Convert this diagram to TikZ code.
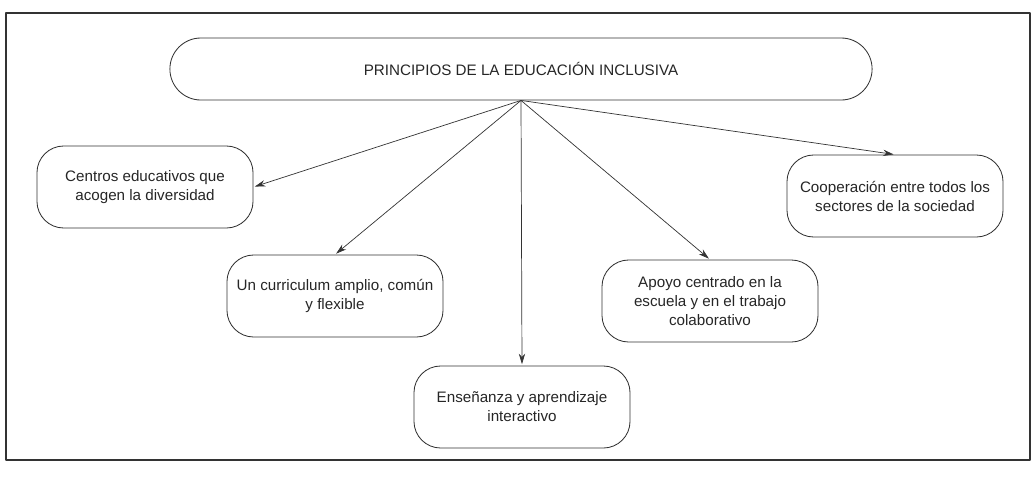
\documentclass[tikz,border=0pt]{standalone}
\usepackage{fontspec}
\setmainfont{Liberation Sans}
\usetikzlibrary{arrows.meta}
\begin{document}
\begin{tikzpicture}[x=0.025cm, y=-0.025cm, line join=round, line cap=round, >={Stealth[length=7.5pt,width=4.5pt]},
		font=\fontsize{10.8}{13.5}\selectfont,
		principio/.style={draw=black!80, line width=0.6pt, rounded corners=19pt, align=center, text=black!85, minimum width=5.4cm, minimum height=2.05cm, inner sep=2pt},
		titulo/.style={draw=black!80, line width=0.6pt, rounded corners=22pt, text=black!85, minimum width=17.55cm, minimum height=1.55cm},
		flecha/.style={->, draw=black!80, line width=0.5pt, shorten >=1pt}]
				\useasboundingbox (0,0) rectangle (1033,476);
				\draw[black!80, line width=0.8pt] (6,13) rectangle (1030,460);
				\node[titulo] (raiz) at (521,69) {PRINCIPIOS DE LA EDUCACIÓN INCLUSIVA};
				\node[principio] (centros) at (145,187) {Centros educativos que\\acogen la diversidad};
				\node[principio] (curriculum) at (335,296) {Un curriculum amplio, común\\y flexible};
				\node[principio] (ensenanza) at (522,407) {Enseñanza y aprendizaje\\interactivo};
				\node[principio] (apoyo) at (710,301) {Apoyo centrado en la\\escuela y en el trabajo\\colaborativo};
				\node[principio] (cooperacion) at (895,196) {Cooperación entre todos los\\sectores de la sociedad};
				\draw[flecha] (raiz.south) -- (centros.east);
				\draw[flecha] (raiz.south) -- (curriculum.north);
				\draw[flecha] (raiz.south) -- (ensenanza.north);
				\draw[flecha] (raiz.south) -- (apoyo.north);
				\draw[flecha] (raiz.south) -- (cooperacion.north);
		\end{tikzpicture}
\end{document}
